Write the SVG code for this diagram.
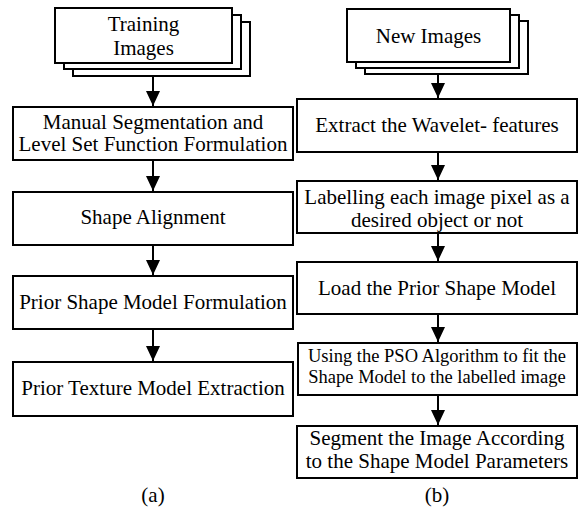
<svg xmlns="http://www.w3.org/2000/svg" width="579" height="508" viewBox="0 0 579 508">
<style>
.box{fill:#fff;stroke:#000;stroke-width:2}
text{font-family:'Liberation Serif','Times New Roman',Times,serif;font-size:21px;fill:#000;text-anchor:middle}
.s{font-size:18.5px}
.c{stroke:#000;stroke-width:2;fill:none}
</style>
<defs>
<marker id="ah" markerUnits="userSpaceOnUse" markerWidth="16" markerHeight="16" viewBox="0 0 16 16" refX="15" refY="8" orient="auto">
<path d="M0,1 L15,8 L0,15 Z" fill="#000"/>
</marker>
</defs>
<rect width="579" height="508" fill="#fff"/>
<g id="connectors">
<line class="c" x1="153" y1="76" x2="153" y2="106" marker-end="url(#ah)"/>
<line class="c" x1="153" y1="160" x2="153" y2="191" marker-end="url(#ah)"/>
<line class="c" x1="153" y1="245" x2="153" y2="275" marker-end="url(#ah)"/>
<line class="c" x1="153" y1="329" x2="153" y2="361" marker-end="url(#ah)"/>
<line class="c" x1="438" y1="74" x2="438" y2="98" marker-end="url(#ah)"/>
<line class="c" x1="438" y1="152" x2="438" y2="180" marker-end="url(#ah)"/>
<line class="c" x1="438" y1="233" x2="438" y2="261" marker-end="url(#ah)"/>
<line class="c" x1="438" y1="314" x2="438" y2="342" marker-end="url(#ah)"/>
<line class="c" x1="438" y1="395" x2="438" y2="425" marker-end="url(#ah)"/>
</g>
<g id="training-images">
<rect class="box" x="73" y="22" width="177" height="54"/>
<rect class="box" x="64" y="15" width="177" height="54"/>
<rect class="box" x="55" y="8" width="177" height="55"/>
<text font-family="Liberation Serif, serif" x="143.5" y="31">Training</text>
<text font-family="Liberation Serif, serif" x="143.5" y="55">Images</text>
</g>
<g id="manual-segmentation">
<rect class="box" x="13" y="107" width="280" height="53"/>
<text x="153" y="129">Manual Segmentation and</text>
<text x="153" y="151">Level Set Function Formulation</text>
</g>
<g id="shape-alignment">
<rect class="box" x="13" y="192" width="280" height="53"/>
<text x="153" y="224">Shape Alignment</text>
</g>
<g id="prior-shape-model">
<rect class="box" x="13" y="276" width="280" height="53"/>
<text x="153" y="309">Prior Shape Model Formulation</text>
</g>
<g id="prior-texture-model">
<rect class="box" x="13" y="362" width="280" height="54"/>
<text x="153" y="395">Prior Texture Model Extraction</text>
</g>
<g id="label-a">
<text x="153" y="502">(a)</text>
</g>
<g id="new-images">
<rect class="box" x="365" y="21" width="163" height="53"/>
<rect class="box" x="356" y="15" width="163" height="53"/>
<rect class="box" x="347" y="9" width="163" height="53"/>
<text x="428.5" y="43">New Images</text>
</g>
<g id="extract-wavelet">
<rect class="box" x="297" y="99" width="280" height="53"/>
<text x="437" y="132">Extract the Wavelet- features</text>
</g>
<g id="labelling">
<rect class="box" x="297" y="181" width="280" height="52"/>
<text x="437" y="204">Labelling each image pixel as a</text>
<text x="437" y="227">desired object or not</text>
</g>
<g id="load-prior">
<rect class="box" x="297" y="262" width="280" height="52"/>
<text x="437" y="295">Load the Prior Shape Model</text>
</g>
<g id="pso">
<rect class="box" x="298" y="343" width="279" height="52"/>
<text class="s" x="437" y="362">Using the PSO Algorithm to fit the</text>
<text class="s" x="437" y="383">Shape Model to the labelled image</text>
</g>
<g id="segment">
<rect class="box" x="297" y="426" width="280" height="52"/>
<text x="437" y="445">Segment the Image According</text>
<text x="437" y="468">to the Shape Model Parameters</text>
</g>
<g id="label-b">
<text x="437" y="502">(b)</text>
</g>
</svg>
